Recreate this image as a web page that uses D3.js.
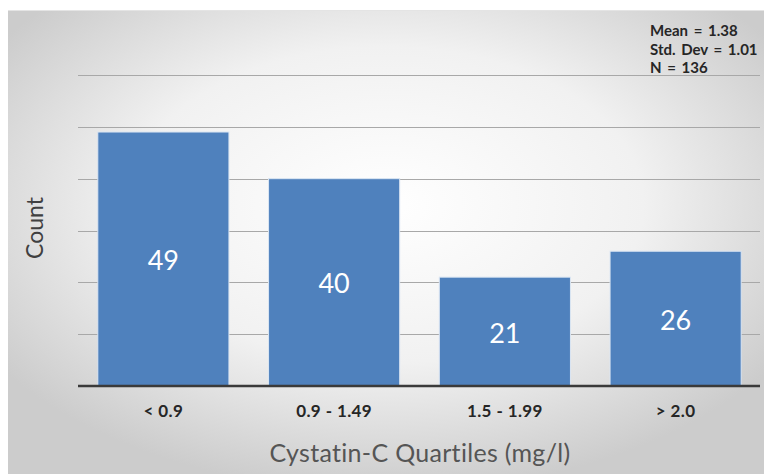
<!DOCTYPE html>
<html>
<head>
<meta charset="utf-8">
<script src="https://cdn.jsdelivr.net/npm/d3@7/dist/d3.min.js"></script>
<style>
  html, body { margin: 0; padding: 0; background: #fff; }
  svg { display: block; }
</style>
</head>
<body>
<svg id="chart" width="764" height="474"></svg>
<script>
// Counts of patients per Cystatin-C quartile
const categories = ["< 0.9", "0.9 - 1.49", "1.5 - 1.99", "> 2.0"];
const counts = [49, 40, 21, 26];
const gridValues = [10, 20, 30, 40, 50, 60];
const statsLines = ["Mean = 1.38", "Std. Dev = 1.01", "N = 136"];

const W = 764, H = 474;
const svg = d3.select("#chart");

// Background panel with soft radial shading
const defs = svg.append("defs");
const rg = defs.append("radialGradient")
  .attr("id", "bg").attr("cx", "50%").attr("cy", "42%").attr("r", "62%");
rg.append("stop").attr("offset", "0%").attr("stop-color", "#ffffff");
rg.append("stop").attr("offset", "55%").attr("stop-color", "#f1f1f1");
rg.append("stop").attr("offset", "100%").attr("stop-color", "#cccccc");

svg.append("rect").attr("x", 8).attr("y", 10).attr("width", W - 8).attr("height", H - 10)
  .attr("fill", "url(#bg)");
svg.append("line").attr("x1", 8).attr("x2", W).attr("y1", 10.5).attr("y2", 10.5)
  .attr("stroke", "#e4e4e4").attr("stroke-width", 1);

const plot = { left: 78, right: 760, top: 75, bottom: 386 };

const x = d3.scaleBand()
  .domain(categories)
  .range([plot.left, plot.right + 1])
  .paddingInner(0.232)
  .paddingOuter(0.116);

const y = d3.scaleLinear()
  .domain([0, 60])
  .range([plot.bottom, plot.top]);

const font = "Lato, 'Open Sans', sans-serif";

// Horizontal gridlines
svg.append("g")
  .selectAll("line")
  .data(gridValues)
  .join("line")
  .attr("x1", plot.left).attr("x2", plot.right)
  .attr("y1", d => Math.round(y(d)) + 0.5).attr("y2", d => Math.round(y(d)) + 0.5)
  .attr("stroke", "#a8a8a8").attr("stroke-width", 1);

// Bars
svg.append("g")
  .selectAll("rect")
  .data(counts)
  .join("rect")
  .attr("x", (d, i) => x(categories[i]))
  .attr("y", d => y(d))
  .attr("width", x.bandwidth())
  .attr("height", d => y(0) - y(d))
  .attr("fill", "#4f81bd")
  .attr("stroke", "#dbe6f3")
  .attr("stroke-width", 1);

// Value labels inside bars
svg.append("g")
  .selectAll("text")
  .data(counts)
  .join("text")
  .attr("x", (d, i) => x(categories[i]) + x.bandwidth() / 2)
  .attr("y", d => (y(d) + y(0)) / 2 + 11)
  .attr("text-anchor", "middle")
  .attr("font-family", font)
  .attr("font-size", 27)
  .attr("fill", "#ffffff")
  .text(d => d);

// Baseline (x axis)
const xAxis = svg.append("g")
  .attr("transform", `translate(0,${plot.bottom})`)
  .call(d3.axisBottom(x).tickSize(0).tickPadding(19));
xAxis.select(".domain")
  .attr("d", `M${plot.left},0H${plot.right}`)
  .attr("stroke", "#3a3a3a").attr("stroke-width", 2.5);
xAxis.selectAll(".tick text")
  .attr("font-family", font)
  .attr("font-weight", "bold")
  .attr("font-size", 17)
  .attr("letter-spacing", 0.4)
  .attr("fill", "#262626");

// Axis titles
svg.append("text")
  .attr("x", 420).attr("y", 462)
  .attr("text-anchor", "middle")
  .attr("font-family", font)
  .attr("font-size", 25)
  .attr("letter-spacing", 0.3)
  .attr("fill", "#555555")
  .text("Cystatin-C Quartiles (mg/l)");

svg.append("text")
  .attr("transform", "translate(43,228) rotate(-90)")
  .attr("text-anchor", "middle")
  .attr("font-family", font)
  .attr("font-size", 23)
  .attr("fill", "#404040")
  .text("Count");

// Summary statistics
svg.append("g")
  .selectAll("text")
  .data(statsLines)
  .join("text")
  .attr("x", 650)
  .attr("y", (d, i) => 36 + i * 18.5)
  .attr("font-family", font)
  .attr("font-weight", "bold")
  .attr("font-size", 15)
  .attr("word-spacing", 2)
  .attr("fill", "#262626")
  .text(d => d);
</script>
</body>
</html>
